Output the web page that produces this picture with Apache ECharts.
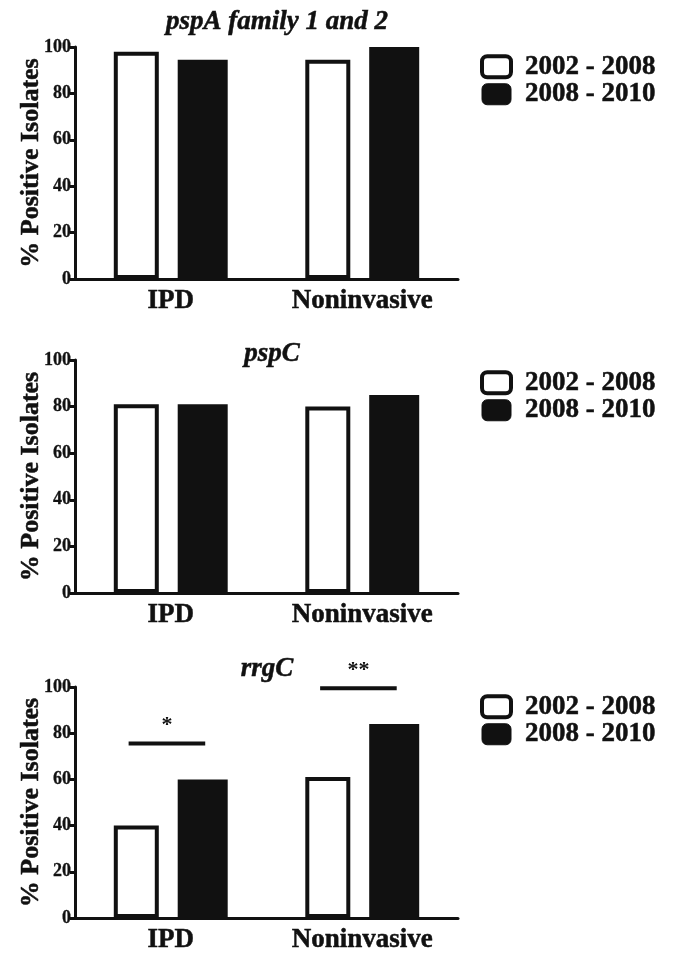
<!DOCTYPE html>
<html>
<head>
<meta charset="utf-8">
<script src="https://cdn.jsdelivr.net/npm/echarts@6/dist/echarts.min.js"></script>
<style>
  html, body { margin: 0; padding: 0; background: #fff; }
  #chart { width: 673px; height: 956px; }
</style>
</head>
<body>
<div id="chart"></div>
<script>
// data
const categories = ['IPD', 'Noninvasive']
const seriesNames = ['2002 - 2008', '2008 - 2010']
const panelTitles = ['pspA family 1 and 2', 'pspC', 'rrgC']

const pspA2002 = [98, 94.5]
const pspA2008 = [94.5, 100]
const pspC2002 = [81, 80]
const pspC2008 = [81, 85]
const rrgC2002 = [40, 61]
const rrgC2008 = [60, 84]

const yTicks = [0, 20, 40, 60, 80, 100]

// significance bars on the rrgC panel
const sigCategory = [0, 1]
const sigHeight = [75.5, 99.5]
const sigMarks = ['*', '**']

const ink = '#111'
const serif = '"Liberation Serif", "DejaVu Serif", serif'
// thickens the glyphs a little, the scan is heavy
const heavy = { textBorderColor: ink, textBorderWidth: 0.5 }

const panels = [
    { top: 47, height: 232, a: pspA2002, b: pspA2008, titleX: 272, titleY: 4, legendY: 48 },
    { top: 360, height: 233, a: pspC2002, b: pspC2008, titleX: 267, titleY: 336, legendY: 364 },
    { top: 687, height: 231, a: rrgC2002, b: rrgC2008, titleX: 262, titleY: 651, legendY: 688 }
]

const chart = echarts.init(document.getElementById('chart'))

const grid = [], xAxis = [], yAxis = [], title = [], legend = [], series = []

panels.forEach((p, i) => {
    grid.push({ left: 75, width: 383, top: p.top, height: p.height })

    title.push({
        text: panelTitles[i],
        left: p.titleX,
        top: p.titleY,
        textAlign: 'center',
        textStyle: Object.assign({ fontFamily: serif, fontStyle: 'italic', fontWeight: 'bold', fontSize: 27, color: ink }, heavy)
    })

    legend.push({
        orient: 'vertical',
        left: 475,
        top: p.legendY,
        itemWidth: 29,
        itemHeight: 21,
        itemGap: 0,
        icon: 'roundRect',
        data: [
            { name: seriesNames[0], itemStyle: { color: '#fff', borderColor: ink, borderWidth: 4 } },
            { name: seriesNames[1], itemStyle: { color: ink, borderColor: ink, borderWidth: 1 } }
        ],
        textStyle: Object.assign({ fontFamily: serif, fontWeight: 'bold', fontSize: 27, lineHeight: 26, color: ink, padding: [0, 0, 0, 9] }, heavy)
    })

    xAxis.push({
        type: 'category',
        gridIndex: i,
        data: categories,
        axisLine: { lineStyle: { color: ink, width: 3 } },
        axisTick: { alignWithLabel: true, length: 6, lineStyle: { color: ink, width: 3 } },
        axisLabel: Object.assign({ fontFamily: serif, fontWeight: 'bold', fontSize: 27, color: ink, margin: 9 }, heavy)
    })

    yAxis.push({
        type: 'value',
        gridIndex: i,
        min: yTicks[0],
        max: yTicks[yTicks.length - 1],
        interval: 20,
        name: '% Positive Isolates',
        nameLocation: 'middle',
        nameRotate: 90,
        nameGap: 31,
        nameMoveOverlap: false,
        nameTextStyle: Object.assign({ fontFamily: serif, fontWeight: 'bold', fontSize: 26, color: ink }, heavy),
        splitLine: { show: false },
        axisLine: { show: true, lineStyle: { color: ink, width: 3 } },
        axisTick: { show: true, length: 5, lineStyle: { color: ink, width: 3 } },
        axisLabel: { fontFamily: serif, fontWeight: 'bold', fontSize: 18, color: ink, margin: 4, textBorderColor: ink, textBorderWidth: 0.3 }
    })

    series.push({
        name: seriesNames[0],
        type: 'bar',
        xAxisIndex: i,
        yAxisIndex: i,
        data: p.a,
        barWidth: 45,
        barGap: '42%',
        itemStyle: { color: '#fff', borderColor: ink, borderWidth: 4 }
    })
    series.push({
        name: seriesNames[1],
        type: 'bar',
        xAxisIndex: i,
        yAxisIndex: i,
        data: p.b,
        barWidth: 50,
        barGap: '42%',
        itemStyle: { color: ink, borderColor: ink, borderWidth: 0 }
    })
})

// lines + stars over the rrgC bars
series.push({
    type: 'custom',
    xAxisIndex: 2,
    yAxisIndex: 2,
    clip: false,
    silent: true,
    data: sigCategory.map((c, k) => [c, sigHeight[k]]),
    encode: { x: 0, y: 1 },
    renderItem: (params, api) => {
        const pt = api.coord([api.value(0), api.value(1)])
        const band = api.size([1, 0])[0]
        const x1 = pt[0] - 0.22 * band
        const x2 = pt[0] + 0.18 * band
        return {
            type: 'group',
            children: [
                { type: 'line', shape: { x1: x1, y1: pt[1], x2: x2, y2: pt[1] }, style: { stroke: ink, lineWidth: 4 } },
                {
                    type: 'text', x: (x1 + x2) / 2, y: pt[1] - 18,
                    style: { text: sigMarks[params.dataIndex], fontFamily: serif, fontWeight: 'bold', fontSize: 22, fill: ink, align: 'center', verticalAlign: 'middle' }
                }
            ]
        }
    }
})

chart.setOption({
    animation: false,
    backgroundColor: '#fff',
    title: title,
    legend: legend,
    grid: grid,
    xAxis: xAxis,
    yAxis: yAxis,
    series: series
})
</script>
</body>
</html>
